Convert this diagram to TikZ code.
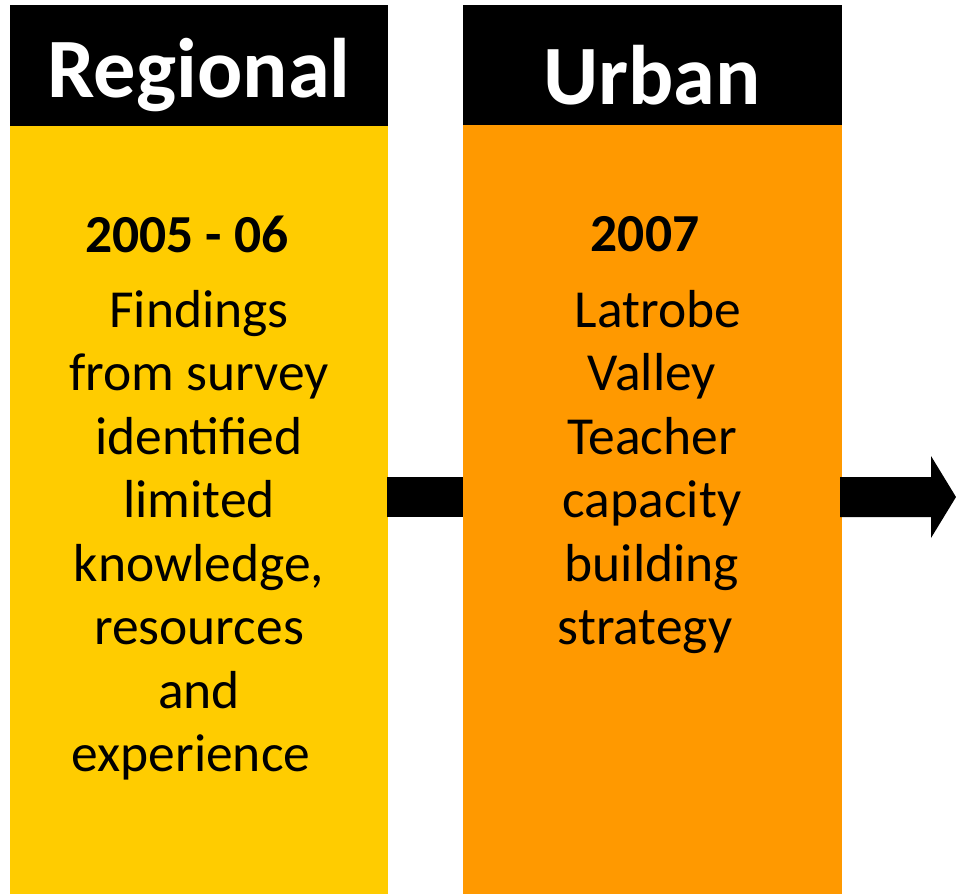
\documentclass[tikz,border=0pt]{standalone}
\usepackage{fontspec}
\setmainfont{Carlito}
\begin{document}
\begin{tikzpicture}[x=1pt,y=-1pt]
\tikzset{
  headbox/.style={fill=black,draw=none},
  headtext/.style={text=white,font=\fontsize{84.5}{100}\selectfont\bfseries,inner sep=0pt},
  yeartext/.style={font=\fontsize{53.5}{60}\selectfont\bfseries,inner sep=0pt},
  bodytext/.style={font=\fontsize{53.5}{63.5}\selectfont,align=center,inner sep=0pt,anchor=north},
  arrowshape/.style={fill=black,draw=none}
}
\useasboundingbox (0,0) rectangle (956,894);
\fill[white] (0,0) rectangle (956,894);
% left column
\fill[fill={rgb,255:red,255;green,204;blue,0}] (10,126) rectangle (388,894);
\fill[headbox] (10,5) rectangle (388,126);
% right column
\fill[fill={rgb,255:red,255;green,153;blue,0}] (463,125) rectangle (842,894);
\fill[headbox] (463,5) rectangle (842,125);
% arrows
\fill[arrowshape] (387,477) rectangle (463,517);
\fill[arrowshape] (840,477) -- (931,477) -- (931,456) -- (956,497) -- (931,538) -- (931,517) -- (840,517) -- cycle;
% texts
\node[headtext] (h1) at (199,75) {Regional};
\node[headtext] (h2) at (652,75) {Urban};
\node[yeartext] (y1) at (187,234) {2005 - 06};
\node[yeartext] (y2) at (645,234) {2007};
\node[bodytext] (b1) at (199,290) {Findings\\from survey\\identified\\limited\\knowledge,\\resources\\and\\experience\kern16pt};
\node[bodytext] (b2) at (652,290) {\kern12pt Latrobe\\Valley\\Teacher\\capacity\\building\\strategy\kern14pt};
\end{tikzpicture}
\end{document}
